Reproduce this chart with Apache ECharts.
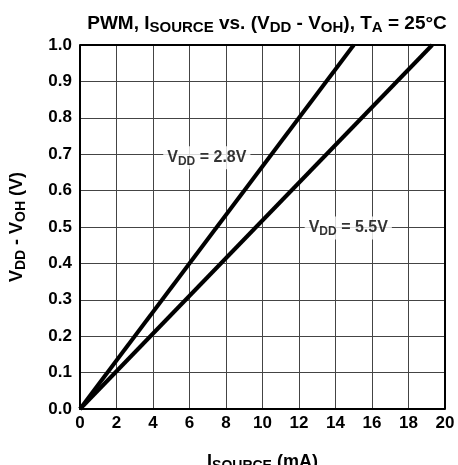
<!DOCTYPE html>
<html>
<head>
<meta charset="utf-8">
<script src="https://cdn.jsdelivr.net/npm/echarts@6/dist/echarts.min.js"></script>
<style>
  html, body { margin: 0; padding: 0; background: #fff; }
  #chart { width: 458px; height: 465px; }
</style>
</head>
<body>
<div id="chart"></div>
<script>
  // I_SOURCE (mA) vs (VDD - VOH) (V)
  var isource28 = [0, 15.0];
  var vdrop28 = [0, 1.0];
  var isource55 = [0, 19.3];
  var vdrop55 = [0, 1.0];
  var labelPos = [[6.95, 0.69], [14.7, 0.497]];
  var labelText = ['2.8V', '5.5V'];

  var font = 'Liberation Sans, Arial, sans-serif';
  var myChart = echarts.init(document.getElementById('chart'));

  function pairs(xs, ys) {
    return xs.map(function (x, i) { return [x, ys[i]]; });
  }

  var sub = { fontSize: 14, fontWeight: 'bold', fontFamily: font, color: '#000', verticalAlign: 'bottom', padding: [8, 0, 0, 0] };
  var base = { fontSize: 18, fontWeight: 'bold', fontFamily: font, color: '#000' };
  var tsub = { fontSize: 15, fontWeight: 'bold', fontFamily: font, color: '#000', verticalAlign: 'bottom', padding: [8, 0, 0, 0] };
  var tbase = { fontSize: 19, fontWeight: 'bold', fontFamily: font, color: '#000' };

  var option = {
    animation: false,
    title: {
      text: '{b|PWM, I}{s|SOURCE}{b| vs. (V}{s|DD}{b| - V}{s|OH}{b|), T}{s|A}{b| = 25°C}',
      left: 262, top: 7, textAlign: 'center',
      textStyle: { rich: { b: tbase, s: tsub } }
    },
    grid: { left: 80, right: 13, top: 45, bottom: 56, outerBoundsMode: 'none', containLabel: false },
    xAxis: {
      type: 'value', min: 0, max: 20, interval: 2,
      name: '{b|I}{s|SOURCE}{b| (mA)}',
      nameLocation: 'middle', nameGap: 42,
      nameTextStyle: { rich: { b: base, s: sub } },
      axisLine: { onZero: false, lineStyle: { color: '#000', width: 2 } },
      axisTick: { show: false },
      axisLabel: { color: '#000', fontSize: 17, fontWeight: 'bold', fontFamily: font, margin: 6 },
      splitLine: { lineStyle: { color: '#444', width: 1 } }
    },
    yAxis: {
      type: 'value', min: 0, max: 1, interval: 0.1,
      name: '{b|V}{s|DD}{b| - V}{s|OH}{b| (V)}',
      nameLocation: 'middle', nameGap: 52,
      nameTextStyle: { rich: { b: base, s: sub } },
      axisLine: { lineStyle: { color: '#000', width: 2 } },
      axisTick: { show: false },
      axisLabel: {
        color: '#000', fontSize: 17, fontWeight: 'bold', fontFamily: font, margin: 8,
        formatter: function (v) { return v.toFixed(1); }
      },
      splitLine: { lineStyle: { color: '#444', width: 1 } }
    },
    series: [
      {
        type: 'line', data: pairs(isource28, vdrop28), symbol: 'none',
        lineStyle: { color: '#000', width: 4 }
      },
      {
        type: 'line', data: pairs(isource55, vdrop55), symbol: 'none',
        lineStyle: { color: '#000', width: 4 }
      },
      {
        type: 'scatter', symbolSize: 0, z: 10,
        data: labelPos,
        label: {
          show: true, position: 'inside',
          backgroundColor: '#fff', padding: [2, 4, 2, 4],
          formatter: function (p) {
            return '{b|V}{s|DD}{b| = ' + labelText[p.dataIndex] + '}';
          },
          rich: {
            b: { fontSize: 16, fontWeight: 'bold', fontFamily: font, color: '#000' },
            s: { fontSize: 12, fontWeight: 'bold', fontFamily: font, color: '#000', verticalAlign: 'bottom', padding: [7, 0, 0, 0] }
          }
        }
      },
      {
        // outer frame (top & right edges)
        type: 'line', data: [[0, 1], [20, 1], [20, 0]], symbol: 'none', silent: true,
        lineStyle: { color: '#000', width: 2 }
      }
    ]
  };
  myChart.setOption(option);
</script>
</body>
</html>
